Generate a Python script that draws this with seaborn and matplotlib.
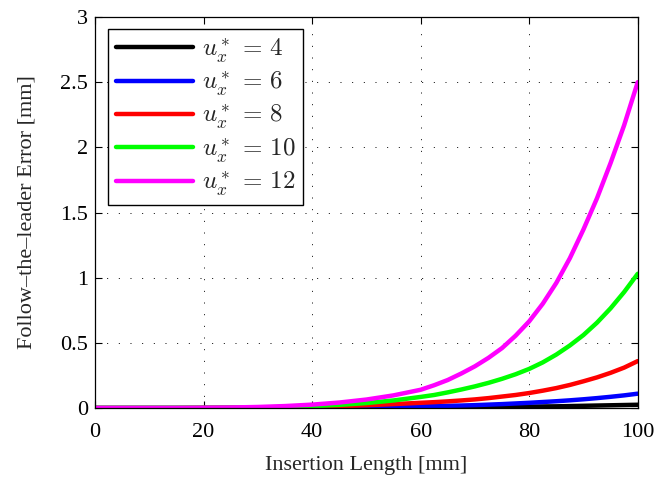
import numpy as np
import pandas as pd
import seaborn as sns
import matplotlib
matplotlib.use("Agg")
import matplotlib.pyplot as plt

# insertion length [mm]
length = [0, 5, 10, 15, 20, 25, 30, 35, 40, 45, 50, 55,
          60, 62.5, 65, 67.5, 70, 72.5, 75, 77.5, 80, 82.5, 85, 87.5, 90, 92.5, 95, 97.5, 100]

# follow-the-leader error [mm]
err_4 = [0, 0, 0, 0, 0, 0, 0, 0.001, 0.001, 0.002, 0.003, 0.004,
         0.005, 0.0055, 0.006, 0.0065, 0.007, 0.008, 0.009, 0.010, 0.011, 0.012, 0.013, 0.015, 0.017, 0.019, 0.021, 0.023, 0.025]
err_6 = [0, 0, 0, 0, 0, 0.001, 0.001, 0.002, 0.003, 0.005, 0.007, 0.010,
         0.013, 0.015, 0.017, 0.019, 0.022, 0.026, 0.030, 0.035, 0.040, 0.046, 0.052, 0.059, 0.067, 0.076, 0.086, 0.097, 0.11]
err_8 = [0, 0, 0, 0, 0.001, 0.002, 0.003, 0.005, 0.009, 0.014, 0.021, 0.030,
         0.040, 0.045, 0.051, 0.058, 0.066, 0.076, 0.088, 0.100, 0.115, 0.133, 0.153, 0.177, 0.205, 0.235, 0.27, 0.31, 0.36]
err_10 = [0, 0, 0, 0, 0.001, 0.002, 0.004, 0.008, 0.014, 0.024, 0.038, 0.058,
          0.085, 0.10, 0.12, 0.142, 0.166, 0.193, 0.224, 0.259, 0.30, 0.35, 0.41, 0.48, 0.56, 0.655, 0.765, 0.89, 1.03]
err_12 = [0, 0, 0, 0, 0.002, 0.004, 0.008, 0.015, 0.026, 0.042, 0.065, 0.097,
          0.14, 0.175, 0.215, 0.265, 0.32, 0.385, 0.46, 0.555, 0.665, 0.80, 0.96, 1.15, 1.37, 1.61, 1.88, 2.17, 2.5]

labels = [r"$u_x^* \,=\, 4$", r"$u_x^* \,=\, 6$", r"$u_x^* \,=\, 8$", r"$u_x^* \,=\, 10$", r"$u_x^* \,=\, 12$"]
colors = ["#000000", "#0000ff", "#ff0000", "#00ff00", "#ff00ff"]

frames = []
for lab, vals in zip(labels, [err_4, err_6, err_8, err_10, err_12]):
    frames.append(pd.DataFrame({"x": length, "y": vals, "case": lab}))
df = pd.concat(frames, ignore_index=True)

sns.set_style("ticks")
plt.rcParams["font.family"] = ["Liberation Serif", "DejaVu Serif"]
plt.rcParams["mathtext.fontset"] = "cm"
plt.rcParams["xtick.direction"] = "in"
plt.rcParams["ytick.direction"] = "in"

fig = plt.figure(figsize=(6.72, 4.79), dpi=100)
ax = fig.add_axes([0.1414, 0.1482, 0.8076, 0.8163])

sns.lineplot(data=df, x="x", y="y", hue="case", palette=colors, linewidth=3.2, ax=ax)

ax.set_xlim(0, 100)
ax.set_ylim(0, 3)
ax.set_xticks([0, 20, 40, 60, 80, 100])
ax.set_yticks([0, 0.5, 1, 1.5, 2, 2.5, 3])
ax.set_yticklabels(["0", "0.5", "1", "1.5", "2", "2.5", "3"])
ax.tick_params(labelsize=16, top=True, right=True, length=5, width=0.8, colors="black")
ax.tick_params(axis="x", pad=11)
ax.tick_params(axis="y", pad=5)
ax.grid(True, color="black", linestyle=(0, (1, 11)), linewidth=0.7)
for s in ax.spines.values():
    s.set_visible(True)
    s.set_color("black")
    s.set_linewidth(0.9)

ax.set_xlabel("Insertion Length [mm]", fontsize=16)
ax.set_ylabel("Follow\u2013the\u2013leader Error [mm]", fontsize=16)
ax.xaxis.set_label_coords(0.5, -0.122)
ax.yaxis.set_label_coords(-0.108, 0.5)

leg = ax.legend(loc="upper left", bbox_to_anchor=(0.024, 0.97), fontsize=18, frameon=True,
                fancybox=False, edgecolor="black", framealpha=1, handlelength=3.1,
                borderpad=0.3, labelspacing=0.2, handletextpad=0.35, borderaxespad=0)
leg.get_frame().set_linewidth(1.0)
for h in leg.get_lines():
    h.set_linewidth(3.2)

fig.savefig("out.png", dpi=100)
